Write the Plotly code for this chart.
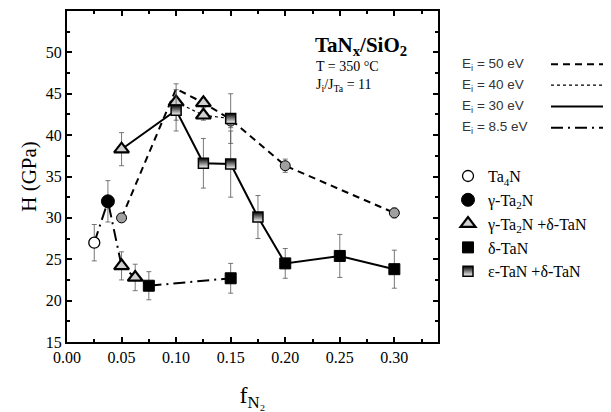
import plotly.graph_objects as go

# ---------------- data ----------------
# energy series (lines)
e50_x = [0.05, 0.10, 0.125, 0.15, 0.20, 0.30]
e50_y = [30.0, 45.6, 43.9, 41.9, 36.3, 30.6]
e40_x = [0.10, 0.125, 0.15]
e40_y = [44.0, 42.4, 42.0]
e30_x = [0.05, 0.10, 0.125, 0.15, 0.175, 0.20, 0.25, 0.30]
e30_y = [38.3, 43.0, 36.6, 36.5, 30.1, 24.5, 25.4, 23.8]
e85_x = [0.025, 0.0375, 0.05, 0.0625, 0.075, 0.15]
e85_y = [27.0, 32.0, 24.2, 22.8, 21.8, 22.7]

line_names = ["E<sub>i</sub> = 50 eV", "E<sub>i</sub> = 40 eV",
              "E<sub>i</sub> = 30 eV", "E<sub>i</sub> = 8.5 eV"]

# phases (markers)
ta4n_x = [0.025]; ta4n_y = [27.0]; ta4n_err = [2.2]
g_x = [0.0375]; g_y = [32.0]; g_err = [2.5]
gd_x = [0.05, 0.05, 0.0625, 0.10, 0.125, 0.125]
gd_y = [38.3, 24.2, 22.8, 44.0, 43.9, 42.4]
gd_err = [2.0, 1.7, 1.6, 2.2, 0.6, 0.6]
d_x = [0.075, 0.15, 0.20, 0.25, 0.30]
d_y = [21.8, 22.7, 24.5, 25.4, 23.8]
d_err = [1.7, 1.8, 1.8, 2.6, 2.3]
ed_x = [0.10, 0.125, 0.15, 0.175, 0.15]
ed_y = [43.0, 36.6, 36.5, 30.1, 42.0]
ed_err = [2.5, 3.0, 4.0, 2.6, 3.0]
hc_x = [0.05, 0.15, 0.20, 0.30]
hc_y = [30.0, 41.7, 36.3, 30.6]
hc_err = [0.5, 0.8, 0.8, 0.6]

phase_names = ["Ta<sub>4</sub>N", "γ-Ta<sub>2</sub>N", "γ-Ta<sub>2</sub>N +δ-TaN",
               "δ-TaN", "ε-TaN +δ-TaN"]

x_ticks = [0.00, 0.05, 0.10, 0.15, 0.20, 0.25, 0.30]
y_ticks = [15, 20, 25, 30, 35, 40, 45, 50]

SERIF = "Liberation Serif, Times New Roman, serif"
SANS = "Liberation Sans, Arial, sans-serif"

fig = go.Figure()

# lines
fig.add_trace(go.Scatter(x=e50_x, y=e50_y, mode="lines", showlegend=False,
                         line=dict(color="black", width=2, dash="7px,5px")))
fig.add_trace(go.Scatter(x=e40_x, y=e40_y, mode="lines", showlegend=False,
                         line=dict(color="black", width=1.2, dash="dot")))
fig.add_trace(go.Scatter(x=e30_x, y=e30_y, mode="lines", showlegend=False,
                         line=dict(color="black", width=2)))
fig.add_trace(go.Scatter(x=e85_x, y=e85_y, mode="lines", showlegend=False,
                         line=dict(color="black", width=2, dash="12px,5px,2px,5px")))

err_style = dict(type="data", color="#555", thickness=0.8, width=2.5)

# unlabeled hatched circles
fig.add_trace(go.Scatter(x=hc_x, y=hc_y, mode="markers", showlegend=False,
                         error_y=dict(array=hc_err, **err_style),
                         marker=dict(symbol="circle", size=10, color="#a0a0a0",
                                     line=dict(color="black", width=1))))

fig.add_trace(go.Scatter(x=ta4n_x, y=ta4n_y, mode="markers", name=phase_names[0],
                         legend="legend2", error_y=dict(array=ta4n_err, **err_style),
                         marker=dict(symbol="circle", size=11, color="white",
                                     line=dict(color="black", width=1.3))))
fig.add_trace(go.Scatter(x=g_x, y=g_y, mode="markers", name=phase_names[1],
                         legend="legend2", error_y=dict(array=g_err, **err_style),
                         marker=dict(symbol="circle", size=13, color="black",
                                     line=dict(color="black", width=1))))
fig.add_trace(go.Scatter(x=gd_x, y=gd_y, mode="markers", name=phase_names[2],
                         legend="legend2", error_y=dict(array=gd_err, **err_style),
                         marker=dict(symbol="triangle-up", size=13, color="#d0d0d0",
                                     line=dict(color="black", width=2.2))))
fig.add_trace(go.Scatter(x=d_x, y=d_y, mode="markers", name=phase_names[3],
                         legend="legend2", error_y=dict(array=d_err, **err_style),
                         marker=dict(symbol="square", size=11, color="black",
                                     line=dict(color="black", width=1))))
fig.add_trace(go.Scatter(x=ed_x, y=ed_y, mode="markers", name=phase_names[4],
                         legend="legend2", error_y=dict(array=ed_err, **err_style),
                         marker=dict(symbol="square", size=10, color="black",
                                     gradient=dict(type="vertical", color="white"),
                                     line=dict(color="black", width=1.5))))

# geometry (page pixels; the page body has an 8px default margin)
OFF = 8
FW, FH = 611 - OFF, 412 - OFF
L, R, T, B = 67, 438, 9, 342          # plot area in page pixels
W, H = R - L, B - T
def px(x):
    return (x - L) / W
def py(y):
    return (B - y) / H

# line legend (text then sample on the right)
dashes = ["7px,5px", "dot", "solid", "12px,5px,2px,5px"]
widths = [2, 1.2, 2, 2]
rows = [62.5, 83.5, 105, 126.5]
for name, d, w, r in zip(line_names, dashes, widths, rows):
    fig.add_annotation(x=px(460), y=py(r), xref="paper", yref="paper", text=name,
                       showarrow=False, xanchor="left", yanchor="middle",
                       font=dict(family=SANS, size=13.5, color="#333"))
    fig.add_shape(type="line", xref="paper", yref="paper",
                  x0=px(551), x1=px(605), y0=py(r), y1=py(r),
                  line=dict(color="black", width=w, dash=d))

# text block
fig.add_annotation(x=px(313), y=py(44), xref="paper", yref="paper",
                   text="<b>TaN<sub>x</sub>/SiO<sub>2</sub></b>", showarrow=False,
                   xanchor="left", yanchor="middle",
                   font=dict(family=SERIF, size=21, color="black"))
fig.add_annotation(x=px(314), y=py(65), xref="paper", yref="paper",
                   text="T = 350 °C", showarrow=False, xanchor="left", yanchor="middle",
                   font=dict(family=SERIF, size=14, color="black"))
fig.add_annotation(x=px(314), y=py(84), xref="paper", yref="paper",
                   text="J<sub>i</sub>/J<sub>Ta</sub> = 11", showarrow=False,
                   xanchor="left", yanchor="middle",
                   font=dict(family=SERIF, size=14, color="black"))

axis_common = dict(showline=True, linecolor="black", linewidth=2, mirror="allticks",
                   ticks="inside", ticklen=5, tickwidth=1.5, tickcolor="black",
                   showgrid=False, zeroline=False,
                   tickfont=dict(family=SERIF, size=16, color="black"))

fig.update_layout(
    width=FW, height=FH,
    margin=dict(l=L - OFF, r=FW - (R - OFF), t=T - OFF, b=FH - (B - OFF)),
    plot_bgcolor="white", paper_bgcolor="white",
    xaxis=dict(range=[0, 0.34], tickvals=x_ticks, ticktext=[f"{v:.2f}" for v in x_ticks],
               minor=dict(ticks="inside", ticklen=3, tickwidth=1.5, dtick=0.025, tick0=0,
                          tickcolor="black"),
               title=dict(text="f<sub>N₂</sub>", font=dict(family=SERIF, size=24, color="black"),
                          standoff=22),
               **axis_common),
    yaxis=dict(range=[15, 55], tickvals=y_ticks,
               minor=dict(ticks="inside", ticklen=3, tickwidth=1.5, dtick=2.5, tick0=15,
                          tickcolor="black"),
               title=dict(text="H (GPa)", font=dict(family=SERIF, size=21, color="black"),
                          standoff=3),
               **axis_common),
    legend2=dict(x=px(448), y=py(158), xanchor="left", yanchor="top",
                 font=dict(family=SERIF, size=16, color="black"),
                 bgcolor="rgba(0,0,0,0)", tracegroupgap=0, itemwidth=30),
    showlegend=True,
)

fig.write_html("out.html")
